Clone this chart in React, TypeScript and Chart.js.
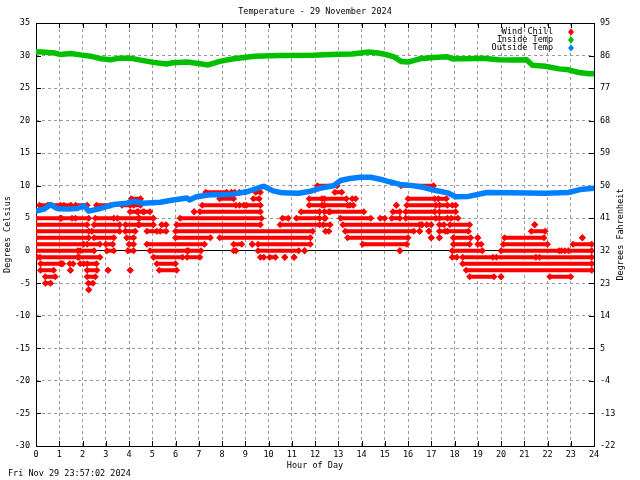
import React, { useEffect, useRef } from 'react';
import { Chart, registerables } from 'chart.js';

Chart.register(...registerables);

const FONT = "'DejaVu Sans Mono', monospace";
const FONT_SIZE = 8.5;

const TITLE = 'Temperature - 29 November 2024';
const X_TITLE = 'Hour of Day';
const Y_LEFT_TITLE = 'Degrees Celsius';
const Y_RIGHT_TITLE = 'Degrees Fahrenheit';
const TIMESTAMP = 'Fri Nov 29 23:57:02 2024';
const seriesNames = ['Wind Chill', 'Inside Temp', 'Outside Temp'];
const seriesColors = ['#ff0000', '#00c000', '#0080ff'];

// Inside temperature (°C)
const insideHours = [0, 0.4, 0.8, 1.05, 1.5, 1.9, 2.35, 2.8, 3.2, 3.6, 4.05, 4.5, 5.05, 5.6, 5.9, 6.5, 7.05, 7.4, 7.9, 8.5, 9.4, 10.5, 11.9, 13.0, 13.6, 14.3, 14.7, 15.0, 15.4, 15.7, 16.0, 16.5, 17.1, 17.7, 17.9, 18.5, 19.2, 19.9, 20.5, 21.1, 21.35, 21.9, 22.5, 22.9, 23.35, 23.8, 24];
const insideTemps = [30.6, 30.5, 30.4, 30.15, 30.3, 30.1, 29.9, 29.5, 29.35, 29.6, 29.6, 29.3, 28.95, 28.7, 28.9, 29.0, 28.75, 28.55, 29.1, 29.5, 29.9, 30.0, 30.05, 30.2, 30.25, 30.55, 30.4, 30.2, 29.8, 29.1, 29.0, 29.5, 29.7, 29.8, 29.5, 29.5, 29.6, 29.35, 29.3, 29.35, 28.5, 28.35, 27.95, 27.8, 27.4, 27.2, 27.2];

// Outside temperature (°C)
const outsideHours = [0, 0.34, 0.63, 0.9, 1.34, 1.77, 2.06, 2.27, 2.77, 3.34, 3.9, 4.2, 4.6, 5.35, 5.9, 6.5, 6.6, 6.9, 7.5, 7.95, 8.5, 9.1, 9.67, 9.8, 10.2, 10.6, 11.3, 11.75, 12.2, 12.8, 13.1, 13.5, 13.95, 14.4, 14.8, 15.2, 15.65, 16.1, 16.6, 17.15, 17.7, 18.05, 18.6, 19.4, 20.4, 21.9, 22.9, 23.4, 24];
const outsideTemps = [6.1, 6.4, 7.1, 6.5, 6.4, 6.5, 6.9, 6.1, 6.5, 7.1, 7.3, 7.6, 7.3, 7.45, 7.8, 8.1, 7.8, 8.3, 8.6, 8.6, 8.7, 9.1, 9.8, 9.9, 9.2, 8.9, 8.85, 9.1, 9.6, 10.0, 10.8, 11.1, 11.3, 11.3, 11.0, 10.6, 10.2, 10.05, 9.8, 9.3, 8.9, 8.3, 8.35, 8.95, 8.9, 8.85, 8.95, 9.4, 9.6];

// Wind chill: integer °C levels and the hour spans [start, end] where readings sit at that level
const windChillLevels = [10, 9, 8, 7, 6, 5, 4, 3, 2, 1, 0, -1, -2, -3, -4, -5, -6];
const windChillRuns: number[][][] = [
  [[12.1, 12.95], [15.7, 17.1]],
  [[7.3, 8.2], [8.4, 8.55], [8.75, 9.0], [9.45, 9.65], [12.85, 13.15]],
  [[4.1, 4.5], [7.9, 8.5], [9.35, 9.6], [11.75, 12.3], [12.4, 13.35], [13.6, 13.75], [16.0, 17.15], [17.3, 17.65]],
  [[0.15, 0.5], [0.55, 1.05], [1.2, 1.5], [1.7, 2.2], [2.6, 3.2], [3.7, 4.05], [4.2, 4.5], [7.15, 8.6], [8.75, 8.95], [9.05, 9.65], [11.75, 12.3], [12.4, 13.4], [13.5, 13.65], [15.5, 15.5], [15.95, 17.2], [17.35, 17.7], [17.9, 18.05]],
  [[4.05, 4.35], [4.4, 4.6], [4.65, 4.9], [6.8, 6.8], [7.05, 9.65], [11.4, 12.2], [12.4, 12.6], [12.65, 14.1], [15.35, 15.65], [15.9, 17.15], [17.35, 18.05]],
  [[0, 1.05], [1.1, 1.55], [1.69, 2.27], [2.55, 3.35], [3.5, 4.4], [4.45, 5.05], [6.2, 9.7], [10.6, 10.85], [11.2, 12.2], [12.4, 12.45], [13.1, 14.4], [14.8, 15.0], [15.3, 15.65], [15.9, 17.2], [17.35, 17.7], [17.85, 18.15]],
  [[0, 2.2], [2.5, 3.6], [3.85, 4.4], [4.45, 5.05], [5.4, 5.6], [6.05, 9.65], [10.5, 12.2], [12.35, 12.65], [13.2, 16.5], [16.6, 16.6], [16.8, 17.0], [17.35, 17.55], [17.8, 18.65], [21.45, 21.45]],
  [[0, 2.27], [2.4, 3.6], [3.84, 4.27], [4.77, 5.2], [5.34, 5.6], [6.0, 11.9], [12.45, 12.6], [13.3, 16.25], [16.5, 16.5], [16.9, 16.9], [17.35, 17.6], [17.7, 18.6], [21.3, 21.9]],
  [[0, 2.27], [2.5, 3.35], [3.9, 4.2], [6.0, 7.5], [7.9, 11.8], [13.4, 16.0], [17.0, 17.0], [17.35, 17.35], [17.95, 18.7], [19.0, 19.0], [20.15, 21.85], [23.5, 23.5]],
  [[0, 2.05], [2.2, 2.75], [3.0, 3.3], [4.0, 4.2], [4.77, 7.25], [8.5, 8.85], [9.3, 9.3], [9.55, 11.8], [14.05, 15.95], [17.95, 18.65], [19.0, 19.15], [20.1, 22.0], [23.1, 23.9]],
  [[0, 1.8], [1.9, 2.5], [3.05, 3.35], [3.95, 4.2], [4.9, 6.5], [6.55, 7.1], [8.5, 8.6], [9.55, 11.3], [11.55, 11.55], [15.65, 15.65], [17.9, 19.2], [20.0, 22.5], [22.6, 22.75], [22.9, 23.9]],
  [[0, 0.05], [0.17, 1.8], [1.85, 2.75], [5.05, 6.3], [6.5, 7.05], [9.65, 9.8], [10.05, 10.3], [10.7, 10.7], [11.1, 11.1], [17.9, 18.1], [18.35, 19.65], [19.8, 21.5], [21.65, 23.9]],
  [[0.2, 1.05], [1.1, 1.15], [1.45, 1.6], [1.9, 2.05], [2.2, 2.6], [5.2, 6.0], [18.35, 23.9]],
  [[0.19, 0.76], [1.48, 1.48], [2.2, 2.62], [3.1, 3.1], [4.05, 4.05], [5.3, 6.05], [18.5, 23.9]],
  [[0.4, 0.83], [2.2, 2.55], [18.65, 19.7], [20.0, 20.0], [22.1, 23.0]],
  [[0.4, 0.63], [2.25, 2.45]],
  [[2.27, 2.27]],
];

// Axis ranges / ticks
const xMin = 0, xMax = 24, xStep = 1;
const cMin = -30, cMax = 35, cStep = 5;
const fMin = -22, fMax = 95, fStep = 9;

const GRID_COLOR = '#999999';

const decorPlugin = {
  id: 'decor',
  beforeDatasetsDraw(chart: any) {
    const { ctx, chartArea, scales } = chart;
    const { left, right, top, bottom } = chartArea;
    ctx.save();
    ctx.strokeStyle = '#000';
    ctx.lineWidth = 1;
    ctx.setLineDash([]);
    ctx.beginPath();
    // inner tick marks
    scales.x.ticks.forEach((t: any) => {
      const px = Math.round(scales.x.getPixelForValue(t.value)) + 0.5;
      ctx.moveTo(px, bottom);
      ctx.lineTo(px, bottom - 5);
      ctx.moveTo(px, top);
      ctx.lineTo(px, top + 5);
    });
    scales.y.ticks.forEach((t: any) => {
      const py = Math.round(scales.y.getPixelForValue(t.value)) + 0.5;
      ctx.moveTo(left, py);
      ctx.lineTo(left + 5, py);
    });
    scales.yF.ticks.forEach((t: any) => {
      const py = Math.round(scales.yF.getPixelForValue(t.value)) + 0.5;
      ctx.moveTo(right, py);
      ctx.lineTo(right - 5, py);
    });
    ctx.stroke();
    ctx.strokeRect(left + 0.5, top + 0.5, right - left, bottom - top);
    ctx.restore();
  },
  afterDraw(chart: any) {
    const { ctx, chartArea } = chart;
    const { left, right, top, bottom } = chartArea;
    const cx = (left + right) / 2;
    const cy = (top + bottom) / 2;
    ctx.save();
    ctx.fillStyle = '#000';
    ctx.font = `${FONT_SIZE}px ${FONT}`;
    ctx.textBaseline = 'middle';
    ctx.textAlign = 'center';
    ctx.fillText(TITLE, cx, 12);
    ctx.fillText(X_TITLE, cx, 466);
    ctx.textAlign = 'left';
    ctx.fillText(TIMESTAMP, 8, 474);
    // vertical axis titles
    ctx.save();
    ctx.translate(8, cy);
    ctx.rotate(-Math.PI / 2);
    ctx.textAlign = 'center';
    ctx.fillText(Y_LEFT_TITLE, 0, 0);
    ctx.restore();
    ctx.save();
    ctx.translate(621, cy);
    ctx.rotate(-Math.PI / 2);
    ctx.textAlign = 'center';
    ctx.fillText(Y_RIGHT_TITLE, 0, 0);
    ctx.restore();
    // legend
    seriesNames.forEach((name, i) => {
      const y = 32 + i * 8;
      ctx.textAlign = 'right';
      ctx.fillStyle = '#000';
      ctx.fillText(name, 553, y);
      ctx.fillStyle = seriesColors[i];
      ctx.beginPath();
      ctx.moveTo(571, y - 3.5);
      ctx.lineTo(574, y);
      ctx.lineTo(571, y + 3.5);
      ctx.lineTo(568, y);
      ctx.closePath();
      ctx.fill();
    });
    ctx.restore();
  },
};

const tickFont = { family: FONT, size: FONT_SIZE };

export default function App() {
  const ref = useRef<HTMLCanvasElement>(null);
  useEffect(() => {
    const canvas = ref.current;
    if (!canvas) return;
    const red = seriesColors[0];
    const wcDatasets = windChillLevels.map((lvl, i) => ({
      label: seriesNames[0],
      data: windChillRuns[i].flatMap(([a, b]) => [
        { x: a, y: lvl },
        { x: b, y: lvl },
        { x: b, y: null },
      ]),
      borderColor: red,
      backgroundColor: red,
      borderWidth: 4,
      pointRadius: 3.5,
      pointStyle: 'rectRot',
      pointBorderWidth: 0,
      spanGaps: false,
      tension: 0,
      order: 2,
    }));
    const chart = new Chart(canvas, {
      type: 'line',
      data: {
        datasets: [
          ...wcDatasets,
          {
            label: seriesNames[1],
            data: insideHours.map((h, i) => ({ x: h, y: insideTemps[i] })),
            borderColor: seriesColors[1],
            backgroundColor: seriesColors[1],
            borderWidth: 5.5,
            pointRadius: 0,
            tension: 0,
            borderJoinStyle: 'round',
            borderCapStyle: 'round',
            order: 1,
          },
          {
            label: seriesNames[2],
            data: outsideHours.map((h, i) => ({ x: h, y: outsideTemps[i] })),
            borderColor: seriesColors[2],
            backgroundColor: seriesColors[2],
            borderWidth: 5.5,
            pointRadius: 0,
            tension: 0,
            borderJoinStyle: 'round',
            borderCapStyle: 'round',
            order: 0,
          },
        ] as any,
      },
      options: {
        responsive: false,
        animation: false,
        devicePixelRatio: 1,
        layout: { padding: { top: 23, left: 0, right: 0, bottom: 0 } },
        plugins: {
          legend: { display: false },
          tooltip: { enabled: false },
          title: { display: false },
        },
        events: [],
        scales: {
          x: {
            type: 'linear',
            min: xMin,
            max: xMax,
            ticks: {
              stepSize: xStep,
              autoSkip: false,
              maxRotation: 0,
              minRotation: 0,
              padding: 4,
              color: '#000',
              font: tickFont,
            },
            grid: { color: GRID_COLOR, drawTicks: false, lineWidth: 1 },
            border: { display: false, dash: [3, 3] },
            afterFit: (s: any) => { s.height = 34; },
          },
          y: {
            type: 'linear',
            position: 'left',
            min: cMin,
            max: cMax,
            ticks: { stepSize: cStep, padding: 6, color: '#000', font: tickFont },
            grid: {
              color: (c: any) => (c.tick && c.tick.value === 0 ? '#000000' : GRID_COLOR),
              drawTicks: false,
              lineWidth: 1,
            },
            border: {
              display: false,
              dash: (c: any) => (c.tick && c.tick.value === 0 ? [] : [3, 3]),
            },
            afterFit: (s: any) => { s.width = 36; },
          },
          yF: {
            type: 'linear',
            position: 'right',
            min: fMin,
            max: fMax,
            ticks: { stepSize: fStep, padding: 6, color: '#000', font: tickFont },
            grid: { drawOnChartArea: false, drawTicks: false },
            border: { display: false },
            afterFit: (s: any) => { s.width = 46; },
          },
        },
      } as any,
      plugins: [decorPlugin],
    });
    return () => chart.destroy();
  }, []);
  return (
    <div style={{ position: 'fixed', left: 0, top: 0, width: 640, height: 480, background: '#fff' }}>
      <canvas ref={ref} width={640} height={480} style={{ display: 'block' }} />
    </div>
  );
}
